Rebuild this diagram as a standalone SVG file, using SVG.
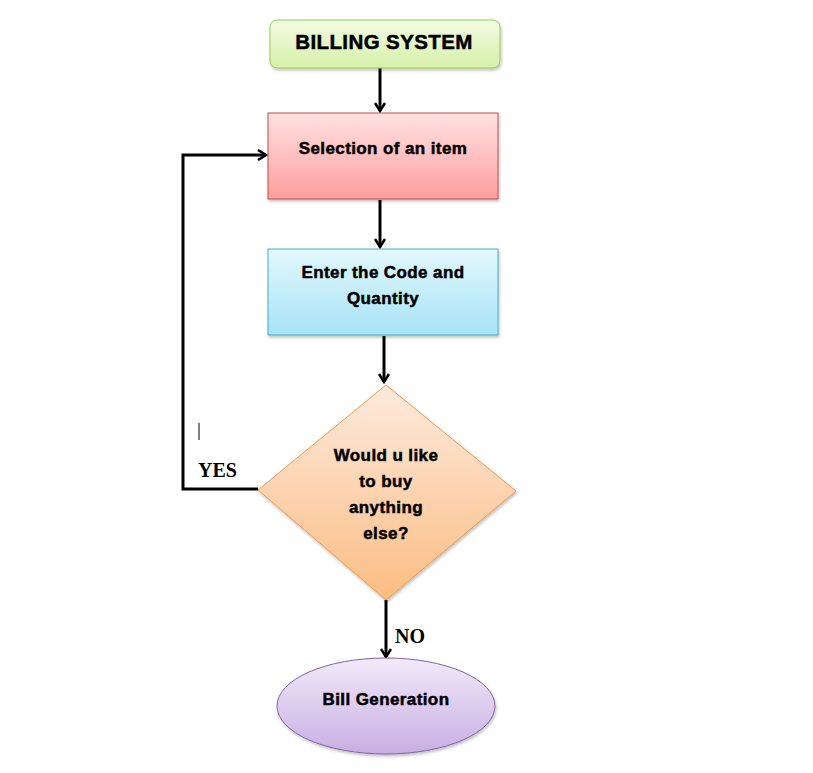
<svg xmlns="http://www.w3.org/2000/svg" width="813" height="773" viewBox="0 0 813 773">
<defs>
<linearGradient id="gGreen" x1="0" y1="0" x2="0" y2="1"><stop offset="0" stop-color="#f3fbe4"/><stop offset="1" stop-color="#d6f0a8"/></linearGradient>
<linearGradient id="gPink" x1="0" y1="0" x2="0" y2="1"><stop offset="0" stop-color="#ffe2e2"/><stop offset="1" stop-color="#ff9e9e"/></linearGradient>
<linearGradient id="gBlue" x1="0" y1="0" x2="0" y2="1"><stop offset="0" stop-color="#e3f8fd"/><stop offset="1" stop-color="#a6e3f6"/></linearGradient>
<linearGradient id="gOrange" x1="0" y1="0" x2="0" y2="1"><stop offset="0" stop-color="#fdeade"/><stop offset="1" stop-color="#fbbd82"/></linearGradient>
<linearGradient id="gPurple" x1="0" y1="0" x2="0" y2="1"><stop offset="0" stop-color="#f2eaf9"/><stop offset="1" stop-color="#c8aee3"/></linearGradient>
<filter id="sh" x="-10%" y="-10%" width="130%" height="130%"><feDropShadow dx="1" dy="2" stdDeviation="1.5" flood-color="#000" flood-opacity="0.25"/></filter>
<marker id="arr" viewBox="0 0 12 12" refX="10" refY="6" markerWidth="12" markerHeight="12" markerUnits="userSpaceOnUse" orient="auto">
<path d="M2,1 L10,6 L2,11" fill="none" stroke="#000" stroke-width="2.5"/>
</marker>
<style>
.lbl{font-family:"Liberation Sans",Arial,sans-serif;font-weight:bold;fill:#000;stroke:#000;stroke-width:0.5;text-anchor:middle;font-size:17px;letter-spacing:0.4px}
.ser{font-family:"Liberation Serif","Times New Roman",serif;font-weight:bold;fill:#000;font-size:20px}
.con{fill:none;stroke:#000;stroke-width:3;marker-end:url(#arr)}
</style>
</defs>
<rect width="813" height="773" fill="#fff"/>
<g id="connectors">
<line class="con" x1="380" y1="68" x2="380" y2="111"/>
<line class="con" x1="380" y1="200" x2="380" y2="247"/>
<line class="con" x1="384" y1="336" x2="384" y2="382"/>
<path class="con" d="M258,489 L183,489 L183,155 L266,155"/>
<line class="con" x1="386" y1="600" x2="386" y2="657"/>
<line x1="199" y1="423" x2="199" y2="440" stroke="#000" stroke-width="1"/>
<text class="ser" x="198" y="477">YES</text>
<text class="ser" x="395" y="643">NO</text>
</g>
<g id="billing-system">
<rect x="270" y="20" width="230" height="48" rx="7" fill="url(#gGreen)" stroke="#9bc95a" stroke-width="1" filter="url(#sh)"/>
<text class="lbl" x="384" y="49" style="font-size:20.5px">BILLING SYSTEM</text>
</g>
<g id="selection">
<rect x="268" y="113" width="230" height="86" fill="url(#gPink)" stroke="#c0504d" stroke-width="1" filter="url(#sh)"/>
<text class="lbl" x="383" y="154">Selection of an item</text>
</g>
<g id="enter-code">
<rect x="268" y="249" width="230" height="86" fill="url(#gBlue)" stroke="#4bacc6" stroke-width="1" filter="url(#sh)"/>
<text class="lbl" x="383" y="278">Enter the Code and</text>
<text class="lbl" x="383" y="304">Quantity</text>
</g>
<g id="decision">
<polygon points="386,385 516,491 386,600 258,490" fill="url(#gOrange)" stroke="#f79646" stroke-width="1" filter="url(#sh)"/>
<text class="lbl" x="386" y="461">Would u like</text>
<text class="lbl" x="386" y="487">to buy</text>
<text class="lbl" x="386" y="513">anything</text>
<text class="lbl" x="386" y="539">else?</text>
</g>
<g id="bill-generation">
<ellipse cx="386" cy="706" rx="109" ry="48" fill="url(#gPurple)" stroke="#8064a2" stroke-width="1" filter="url(#sh)"/>
<text class="lbl" x="386" y="705">Bill Generation</text>
</g>
</svg>
